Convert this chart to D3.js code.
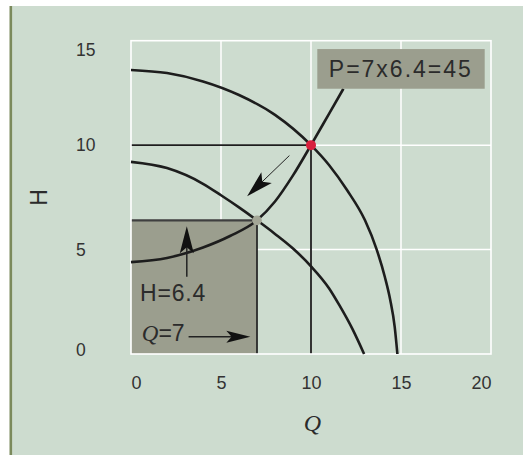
<!DOCTYPE html>
<html>
<head>
<meta charset="utf-8">
<script src="https://cdn.jsdelivr.net/npm/d3@7"></script>
<style>
  body { margin: 0; background: #fff; }
  svg { display: block; }
</style>
</head>
<body>
<svg id="chart" width="523" height="455"></svg>
<script>
// Axis ticks
const qTicks = [0, 5, 10, 15, 20];
const hTicks = [0, 5, 10, 15];

// Pump curve at full speed (Q, H)
const outerQ = [0, 2, 4, 6, 8, 10, 11, 12, 13, 13.65, 14.1, 14.4, 14.65, 14.8];
const outerH = [13.6, 13.45, 13.05, 12.4, 11.45, 10, 9.05, 7.85, 6.4, 5.0, 3.7, 2.6, 1.3, 0];

// Pump curve at reduced speed
const innerQ = [0, 2, 4, 5, 6, 7, 8, 9, 10, 11, 11.6, 12.3, 12.95];
const innerH = [9.2, 8.9, 8.15, 7.6, 7.02, 6.4, 5.75, 5.05, 4.2, 3.15, 2.3, 1.2, 0];

// System curve
const systemQ = [0, 2, 4, 5.5, 7, 8, 9, 10, 11, 11.8];
const systemH = [4.4, 4.6, 5.1, 5.65, 6.4, 7.3, 8.55, 10, 11.5, 12.7];

// Duty points
const designQ = 10, designH = 10;
const opQ = 7, opH = 6.4;

// Annotation texts
const powerLabel = "P=7x6.4=45";
const headLabel = "H=6.4";
const flowLabel = "=7";

const W = 523, H = 455;
const margin = { top: 40.7, right: 32, bottom: 101, left: 131 };

const svg = d3.select("#chart");

// Panel background and its left rule
svg.append("rect").attr("x", 12).attr("y", 6).attr("width", W - 12).attr("height", H - 6)
  .attr("fill", "#cddccf");
svg.append("rect").attr("x", 9.5).attr("y", 6).attr("width", 2.6).attr("height", H - 6)
  .attr("fill", "#7b8a5c");

const x = d3.scaleLinear().domain([0, 20]).range([margin.left, W - margin.right]);
const y = d3.scaleLinear().domain([0, 15]).range([H - margin.bottom, margin.top]);

const sans = "'Liberation Sans', Arial, Helvetica, sans-serif";
const serif = "'Liberation Serif', 'Times New Roman', serif";
const ink = "#1d1d1d";

// Grid
const grid = svg.append("g").attr("stroke", "#ffffff").attr("stroke-width", 1.5);
grid.selectAll("line.v").data(qTicks.slice(1, -1)).join("line")
  .attr("x1", d => x(d)).attr("x2", d => x(d))
  .attr("y1", y(0)).attr("y2", y(15));
grid.selectAll("line.h").data(hTicks.slice(1, -1)).join("line")
  .attr("x1", x(0)).attr("x2", x(20))
  .attr("y1", d => y(d)).attr("y2", d => y(d));

// Power rectangle Q x H at the reduced-speed duty point
svg.append("rect")
  .attr("x", x(0)).attr("y", y(opH))
  .attr("width", x(opQ) - x(0)).attr("height", y(0) - y(opH))
  .attr("fill", "#9b9e8e");
svg.append("line")
  .attr("x1", x(0)).attr("x2", x(opQ)).attr("y1", y(opH)).attr("y2", y(opH))
  .attr("stroke", "#3f3f3f").attr("stroke-width", 2.4);
svg.append("line")
  .attr("x1", x(opQ)).attr("x2", x(opQ)).attr("y1", y(opH)).attr("y2", y(0))
  .attr("stroke", "#2a2a2a").attr("stroke-width", 1.8);

// Reference lines to the design point
svg.append("line")
  .attr("x1", x(0)).attr("x2", x(designQ)).attr("y1", y(designH)).attr("y2", y(designH))
  .attr("stroke", ink).attr("stroke-width", 1.8);
svg.append("line")
  .attr("x1", x(designQ)).attr("x2", x(designQ)).attr("y1", y(designH)).attr("y2", y(0))
  .attr("stroke", ink).attr("stroke-width", 1.8);

// Plot frame
svg.append("rect")
  .attr("x", x(0)).attr("y", y(15))
  .attr("width", x(20) - x(0)).attr("height", y(0) - y(15))
  .attr("fill", "none").attr("stroke", "#ffffff").attr("stroke-width", 1.6);

// Curves
const line = d3.line().x(d => x(d[0])).y(d => y(d[1])).curve(d3.curveMonotoneX);
const curves = [
  d3.zip(outerQ, outerH),
  d3.zip(innerQ, innerH),
  d3.zip(systemQ, systemH)
];
svg.append("g").selectAll("path").data(curves).join("path")
  .attr("d", line)
  .attr("fill", "none").attr("stroke", ink).attr("stroke-width", 2.6);

// Duty points
svg.append("circle").attr("cx", x(opQ)).attr("cy", y(opH)).attr("r", 4.8)
  .attr("fill", "#a3a696");
svg.append("circle").attr("cx", x(designQ)).attr("cy", y(designH)).attr("r", 5)
  .attr("fill", "#d81f3d");

// Arrows with notched heads
function arrow(x1, y1, x2, y2, len, wid, shaft) {
  const ang = Math.atan2(y2 - y1, x2 - x1);
  const bx = x2 - Math.cos(ang) * len * 0.75;
  const by = y2 - Math.sin(ang) * len * 0.75;
  svg.append("line").attr("x1", x1).attr("y1", y1).attr("x2", bx).attr("y2", by)
    .attr("stroke", "#222").attr("stroke-width", shaft);
  svg.append("path")
    .attr("d", `M0,0L${-len},${wid / 2}L${-len * 0.78},0L${-len},${-wid / 2}Z`)
    .attr("transform", `translate(${x2},${y2}) rotate(${ang * 180 / Math.PI})`)
    .attr("fill", "#111");
}
arrow(x(8.8), y(9.5), x(6.45), y(7.55), 27, 15, 1);
arrow(x(3.1), y(3.7), x(3.1), y(opH - 0.28), 27, 14, 1.5);
arrow(x(3.2), y(0.83), x(opQ - 0.37), y(0.83), 24, 12, 1.5);

// Annotation texts inside the rectangle
svg.append("text")
  .attr("x", x(0.5)).attr("y", y(2.55))
  .attr("font-family", sans).attr("font-size", 23).attr("letter-spacing", 0.8)
  .attr("fill", "#2b2b2b").text(headLabel);
const qt = svg.append("text")
  .attr("x", x(0.6)).attr("y", y(0.62))
  .attr("font-size", 23).attr("fill", "#2b2b2b");
qt.append("tspan").attr("font-family", serif).attr("font-style", "italic").text("Q");
qt.append("tspan").attr("font-family", sans).text(flowLabel);

// Power label box
svg.append("rect")
  .attr("x", x(10.35)).attr("y", y(14.6))
  .attr("width", x(19.65) - x(10.35)).attr("height", y(12.7) - y(14.6))
  .attr("fill", "#9b9e8e");
svg.append("text")
  .attr("x", x(10.35) + 11.5).attr("y", (y(14.6) + y(12.7)) / 2 + 8)
  .attr("font-family", sans).attr("font-size", 23).attr("letter-spacing", 2)
  .attr("fill", "#2b2b2b").text(powerLabel);

// Axes
const xAxis = svg.append("g")
  .attr("transform", `translate(0,${y(0) + 35})`)
  .call(d3.axisBottom(x).tickValues(qTicks).tickSize(0).tickPadding(0));
xAxis.select(".domain").remove();
xAxis.selectAll("text")
  .attr("font-family", sans).attr("font-size", 18).attr("fill", "#333")
  .attr("dy", 0)
  .attr("text-anchor", d => d === qTicks[0] ? "start" : d === qTicks[qTicks.length - 1] ? "end" : "middle");

// H tick labels sit left-aligned; the end labels are nudged inside the frame
const yAxis = svg.append("g")
  .call(d3.axisLeft(y).tickValues(hTicks).tickSize(0).tickPadding(0));
yAxis.select(".domain").remove();
yAxis.selectAll("text")
  .attr("font-family", sans).attr("font-size", 17.5).attr("fill", "#333")
  .attr("text-anchor", "start")
  .attr("x", 76)
  .attr("dy", "0.32em")
  .attr("transform", d => d === hTicks[hTicks.length - 1] ? "translate(0,9)" : d === hTicks[0] ? "translate(0,-4)" : null);

// Axis titles
svg.append("text")
  .attr("x", (x(0) + x(20)) / 2 + 1.5).attr("y", 431)
  .attr("text-anchor", "middle")
  .attr("font-family", serif).attr("font-style", "italic").attr("font-size", 24)
  .attr("fill", "#2b2b2b").text("Q");
svg.append("text")
  .attr("transform", `translate(47,${(y(0) + y(15)) / 2}) rotate(-90)`)
  .attr("text-anchor", "middle")
  .attr("font-family", sans).attr("font-size", 23)
  .attr("fill", "#2b2b2b").text("H");
</script>
</body>
</html>
